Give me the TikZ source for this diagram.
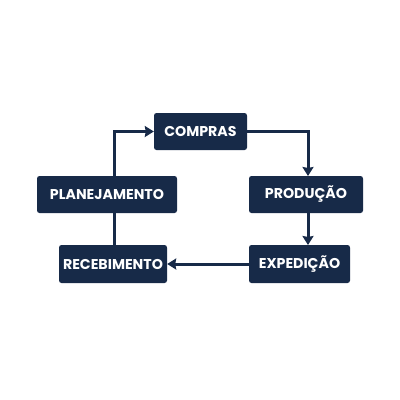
\documentclass[tikz,border=0pt]{standalone}
\usepackage{fontspec}
\setmainfont{Poppins}
\usepackage{xcolor}
\usetikzlibrary{arrows.meta}
\definecolor{navy}{HTML}{172A48}
\tikzstyle{etapa} = [rectangle, rounded corners=2.5pt, fill=navy, text=white, font=\fontsize{14.2}{17}\selectfont\bfseries, minimum height=37pt, inner sep=0pt]
\tikzstyle{seta} = [line width=3pt, draw=navy, -{Stealth[length=9pt,width=11pt,inset=1pt]}]
\tikzstyle{linha} = [line width=3pt, draw=navy]

\begin{document}
\begin{tikzpicture}[x=1pt,y=-1pt]
    \useasboundingbox (0,0) rectangle (400,400);
    \node[etapa, minimum width=93pt] (compras) at (200.5,131.5) {COMPRAS};
    \node[etapa, minimum width=140pt] (planejamento) at (107,194.5) {PLANEJAMENTO};
    \node[etapa, minimum width=114pt] (producao) at (306,194.5) {PRODUÇÃO};
    \node[etapa, minimum width=108pt, minimum height=38pt] (recebimento) at (113,264) {RECEBIMENTO};
    \node[etapa, minimum width=101pt, minimum height=38pt] (expedicao) at (299.5,264) {EXPEDIÇÃO};

    % pontos onde as linhas tocam as caixas
    \coordinate (prodtopo) at (308,176);
    \coordinate (prodbase) at (308,213);
    \coordinate (exptopo) at (308,245);
    \coordinate (rectopo) at (114,245);
    \coordinate (planbase) at (114,213);
    \coordinate (plantopo) at (114,176);

    \draw[seta] (compras.east) -| (prodtopo);
    \draw[seta] (prodbase) -- (exptopo);
    \draw[seta] (expedicao.west) -- (recebimento.east);
    \draw[linha] (rectopo) -- (planbase);
    \draw[seta] (plantopo) |- (compras.west);

\end{tikzpicture}
\end{document}
